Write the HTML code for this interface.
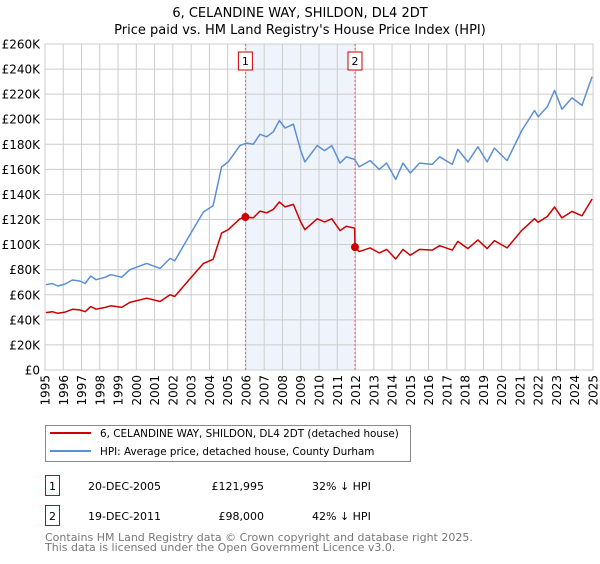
<!DOCTYPE html>
<html><head><meta charset="utf-8"><style>
body{margin:0;background:#fff;font-family:"DejaVu Sans","Liberation Sans",sans-serif;}
svg text{font-family:"DejaVu Sans","Liberation Sans",sans-serif;}
</style></head><body>
<svg id="chart" width="600" height="560" viewBox="0 0 600 560" xmlns="http://www.w3.org/2000/svg">
<text x="300" y="17" text-anchor="middle" font-size="13">6, CELANDINE WAY, SHILDON, DL4 2DT</text>
<text x="300" y="34" text-anchor="middle" font-size="13">Price paid vs. HM Land Registry's House Price Index (HPI)</text>
<g id="plot"></g>
<g>
<rect x="45.5" y="425.5" width="365" height="36" fill="#fff" stroke="#888"/>
<line x1="50" y1="433" x2="91" y2="433" stroke="#cc0000" stroke-width="2"/>
<text x="100" y="437" font-size="10.4">6, CELANDINE WAY, SHILDON, DL4 2DT (detached house)</text>
<line x1="50" y1="451" x2="91" y2="451" stroke="#5b8fd6" stroke-width="2"/>
<text x="100" y="455" font-size="10.4">HPI: Average price, detached house, County Durham</text>
</g>
<g>
<rect x="45.5" y="475.5" width="14" height="20" fill="#fff" stroke="#cc0000"/>
<text x="52.5" y="490" text-anchor="middle" font-size="11">1</text>
<text x="88" y="490" font-size="11">20-DEC-2005</text>
<text x="264" y="490" text-anchor="end" font-size="11">£121,995</text>
<text x="312" y="490" font-size="11">32% ↓ HPI</text>
<rect x="45.5" y="505.5" width="14" height="20" fill="#fff" stroke="#cc0000"/>
<text x="52.5" y="520" text-anchor="middle" font-size="11">2</text>
<text x="88" y="520" font-size="11">19-DEC-2011</text>
<text x="264" y="520" text-anchor="end" font-size="11">£98,000</text>
<text x="312" y="520" font-size="11">42% ↓ HPI</text>
</g>
<text x="45" y="541" font-size="11" fill="#777">Contains HM Land Registry data © Crown copyright and database right 2025.</text>
<text x="45" y="551" font-size="11" fill="#777">This data is licensed under the Open Government Licence v3.0.</text>
</svg>
<script>
const hpiYears=[1995.05,1995.4,1995.7,1996.1,1996.5,1996.9,1997.2,1997.5,1997.8,1998.3,1998.6,1999.2,1999.65,2000.57,2001.3,2001.85,2002.1,2002.94,2003.67,2004.2,2004.67,2005.03,2005.67,2006.04,2006.4,2006.77,2007.13,2007.5,2007.83,2008.14,2008.6,2009.0,2009.23,2009.9,2010.3,2010.7,2011.15,2011.5,2011.95,2012.2,2012.8,2013.3,2013.7,2014.2,2014.6,2015.0,2015.5,2016.2,2016.6,2017.3,2017.6,2018.15,2018.7,2019.2,2019.6,2020.3,2021.1,2021.45,2021.8,2022.0,2022.5,2022.9,2023.3,2023.85,2024.4,2024.95];
const hpiValues=[68,69,67,68.6,71.8,71,69,75,72,74,76,74,80,85,81,89,87,108,126,131,162,166,179,181,180,188,186,190,199,193,196,175,166,179,175,179,165,170,168,162,167,160,165,152,165,157,165,164,170,164,176,166,178,166,177,167,191,199,207,202,210,223,208,217,211,234];
const priceYears=[1995.05,1995.4,1995.7,1996.1,1996.5,1996.9,1997.2,1997.5,1997.8,1998.3,1998.6,1999.2,1999.65,2000.57,2001.3,2001.85,2002.1,2002.94,2003.67,2004.2,2004.67,2005.03,2005.67,2005.97,2006.04,2006.4,2006.77,2007.13,2007.5,2007.83,2008.14,2008.6,2009.0,2009.23,2009.9,2010.3,2010.7,2011.15,2011.5,2011.95,2011.97,2012.2,2012.8,2013.3,2013.7,2014.2,2014.6,2015.0,2015.5,2016.2,2016.6,2017.3,2017.6,2018.15,2018.7,2019.2,2019.6,2020.3,2021.1,2021.45,2021.8,2022.0,2022.5,2022.9,2023.3,2023.85,2024.4,2024.95];
const priceValues=[45.8,46.5,45.2,46.2,48.4,47.9,46.5,50.6,48.5,49.9,51.2,49.9,53.9,57.3,54.6,60,58.6,72.8,84.9,88.3,109.2,111.9,120.6,122,122,121.3,126.7,125.4,128.1,134.1,130.1,132.1,118,111.9,120.6,118,120.6,111.2,114.6,113.2,98,94.4,97.4,93.3,96.2,88.6,96.2,91.5,96.2,95.6,99.1,95.6,102.6,96.8,103.8,96.8,103.2,97.4,111.4,116,120.7,117.8,122.4,130,121.3,126.5,123,136.4];
const saleYears=[2005.97,2011.97];
const saleValues=[121.995,98];
const saleLabels=["1","2"];
const yTicks=[0,20,40,60,80,100,120,140,160,180,200,220,240,260];
const yTickLabels=["£0","£20K","£40K","£60K","£80K","£100K","£120K","£140K","£160K","£180K","£200K","£220K","£240K","£260K"];
const xTicks=[1995,1996,1997,1998,1999,2000,2001,2002,2003,2004,2005,2006,2007,2008,2009,2010,2011,2012,2013,2014,2015,2016,2017,2018,2019,2020,2021,2022,2023,2024,2025];

const L=45,R=593,T=44,B=370;
const xs=y=>L+(y-1995)/30*(R-L);
const ys=v=>B-v/260*(B-T);
const NS="http://www.w3.org/2000/svg";
const plot=document.getElementById('plot');
function mk(tag,attrs,parent){const e=document.createElementNS(NS,tag);for(const k in attrs)e.setAttribute(k,attrs[k]);(parent||plot).appendChild(e);return e;}

const shade=mk('rect',{x:xs(saleYears[0]),y:T,width:xs(saleYears[1])-xs(saleYears[0]),height:B-T,fill:'#eef3fc'});



yTicks.forEach((t,i)=>{
  const g=mk('line',{x1:L,x2:R,y1:ys(t),y2:ys(t),stroke:'#cccccc','stroke-width':1});
  
  
  const tx=mk('text',{x:40,y:ys(t)+4.5,'text-anchor':'end','font-size':12});
  tx.textContent=yTickLabels[i];
  
  
});
xTicks.forEach(t=>{
  const g=mk('line',{x1:xs(t),x2:xs(t),y1:T,y2:B,stroke:'#cccccc','stroke-width':1});
  
  
  const tx=mk('text',{x:0,y:0,'text-anchor':'end','font-size':12,transform:`translate(${xs(t)+4.5},${B+5}) rotate(-90)`});
  tx.textContent=String(t);
  
  
});
const border=mk('rect',{x:L,y:T,width:R-L,height:B-T,fill:'none',stroke:'#cccccc'});



saleYears.forEach((y,i)=>{
  const l=mk('line',{x1:xs(y),x2:xs(y),y1:T,y2:B,stroke:'#e06666','stroke-width':1,'stroke-dasharray':'2,2'});
  
  
  const b=mk('rect',{x:xs(y)-7,y:52,width:14,height:18,fill:'#fff',stroke:'#cc0000'});
  
  
  const t=mk('text',{x:xs(y),y:65,'text-anchor':'middle','font-size':11});
  t.textContent=saleLabels[i];
  
  
});

const hp=mk('polyline',{points:hpiYears.map((y,i)=>xs(y).toFixed(1)+','+ys(hpiValues[i]).toFixed(1)).join(' '),fill:'none',stroke:'#5b8fd6','stroke-width':1.5,'stroke-linejoin':'round'});


const pp=mk('polyline',{points:priceYears.map((y,i)=>xs(y).toFixed(1)+','+ys(priceValues[i]).toFixed(1)).join(' '),fill:'none',stroke:'#cc0000','stroke-width':1.5,'stroke-linejoin':'round'});


saleYears.forEach((y,i)=>{
  const c=mk('circle',{cx:xs(y),cy:ys(saleValues[i]),r:4,fill:'#cc0000'});
  
  
});
</script>
</body></html>
